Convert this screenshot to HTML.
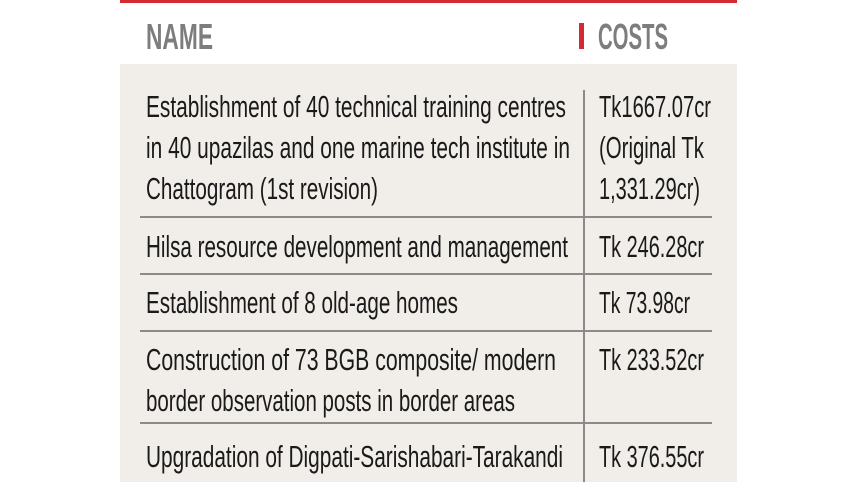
<!DOCTYPE html>
<html><head><meta charset="utf-8"><style>
html,body{margin:0;padding:0;background:#fff;width:857px;height:482px;overflow:hidden}
text{font-family:"Liberation Sans Narrow","Liberation Sans",sans-serif;fill:#1a1a1a;font-size:31px}
.h{fill:#7d7d7d;font-weight:bold;font-size:36px}
</style></head><body>
<svg width="857" height="482" xmlns="http://www.w3.org/2000/svg">
<rect x="120" y="0" width="617" height="3" fill="#d42a32"/>
<rect x="120" y="64" width="617" height="418" fill="#f1eee9"/>
<text class="h" x="146" y="49" textLength="67" lengthAdjust="spacingAndGlyphs">NAME</text>
<rect x="579" y="23" width="5" height="26" fill="#d42a32"/>
<text class="h" x="598" y="49" textLength="70" lengthAdjust="spacingAndGlyphs">COSTS</text>
<g stroke="#8a8a8a" stroke-width="2">
<line x1="584" y1="90" x2="584" y2="482"/>
<line x1="140" y1="217" x2="712" y2="217"/>
<line x1="140" y1="274" x2="712" y2="274"/>
<line x1="140" y1="331" x2="712" y2="331"/>
<line x1="140" y1="423" x2="712" y2="423"/>
</g>
<g>
<text x="146" y="117" textLength="420" lengthAdjust="spacingAndGlyphs">Establishment of 40 technical training centres</text>
<text x="146" y="158" textLength="424" lengthAdjust="spacingAndGlyphs">in 40 upazilas and one marine tech institute in</text>
<text x="146" y="199" textLength="232" lengthAdjust="spacingAndGlyphs">Chattogram (1st revision)</text>
<text x="146" y="257" textLength="422" lengthAdjust="spacingAndGlyphs">Hilsa resource development and management</text>
<text x="146" y="313" textLength="312" lengthAdjust="spacingAndGlyphs">Establishment of 8 old-age homes</text>
<text x="146" y="370" textLength="410" lengthAdjust="spacingAndGlyphs">Construction of 73 BGB composite/ modern</text>
<text x="146" y="411" textLength="369" lengthAdjust="spacingAndGlyphs">border observation posts in border areas</text>
<text x="146" y="467" textLength="417" lengthAdjust="spacingAndGlyphs">Upgradation of Digpati-Sarishabari-Tarakandi</text>
<text x="599" y="117" textLength="112" lengthAdjust="spacingAndGlyphs">Tk1667.07cr</text>
<text x="599" y="158" textLength="105" lengthAdjust="spacingAndGlyphs">(Original Tk</text>
<text x="599" y="199" textLength="101" lengthAdjust="spacingAndGlyphs">1,331.29cr)</text>
<text x="599" y="257" textLength="105" lengthAdjust="spacingAndGlyphs">Tk 246.28cr</text>
<text x="599" y="313" textLength="91" lengthAdjust="spacingAndGlyphs">Tk 73.98cr</text>
<text x="599" y="370" textLength="105" lengthAdjust="spacingAndGlyphs">Tk 233.52cr</text>
<text x="599" y="467" textLength="105" lengthAdjust="spacingAndGlyphs">Tk 376.55cr</text>
</g>
</svg>
</body></html>
